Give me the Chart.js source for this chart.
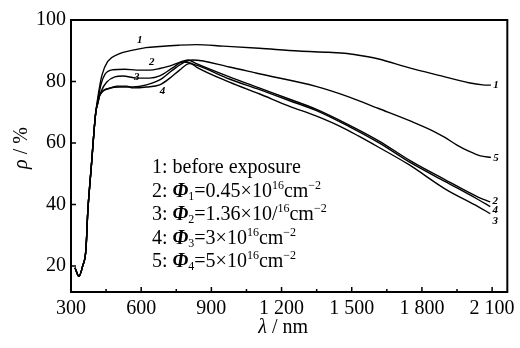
<!DOCTYPE html>
<html lang="en">
<head>
<meta charset="UTF-8">
<title>Reflectance spectra</title>
<style>
  body { margin: 0; background: #fff; }
</style>
</head>
<body>
<canvas id="chart" width="520" height="348"></canvas>
<script src="https://cdn.jsdelivr.net/npm/chart.js@4/dist/chart.umd.min.js"></script>
<script>
// common steep rise, all five curves start on it
const riseNm = [317, 334, 350, 364, 372, 381, 389, 398, 406]
const riseR  = [19.4, 16.6, 20, 25.5, 38, 47, 54.5, 63.5, 70]

// 1: before exposure
const nm1 = [415, 432, 457, 500, 560, 620, 680, 760, 836, 950, 1104, 1274, 1400, 1480, 1550, 1615, 1743, 1883, 2000, 2060, 2095]
const r1  = [75, 82, 86.5, 88.8, 90.1, 91, 91.4, 91.8, 92, 91.5, 90.8, 89.9, 89.5, 89.1, 88.3, 87.3, 84.5, 81.8, 79.6, 78.9, 78.8]

// 2: phi1
const nm2 = [415, 428, 445, 479, 530, 581, 636, 679, 720, 764, 800, 836, 977, 1104, 1232, 1347, 1487, 1615, 1755, 1900, 2040, 2092]
const r2  = [74, 79, 82.3, 83.8, 84, 83.7, 83.7, 84.2, 85, 86.2, 87, 85.8, 81.5, 77.9, 74.3, 71, 65.9, 60.7, 54, 48, 42.4, 40.8]

// 3: phi2
const nm3 = [415, 430, 453, 487, 521, 581, 636, 679, 734, 777, 810, 836, 977, 1104, 1232, 1347, 1450, 1530, 1615, 1743, 1900, 2040, 2092]
const r3  = [73.5, 77, 79.8, 81.5, 81.8, 81.1, 81.1, 81.8, 84.4, 86.3, 86, 84.7, 79.8, 76, 72, 68.8, 65.4, 62.2, 58.6, 53, 45, 39.3, 37]

// 4: phi3
const nm4 = [415, 423, 466, 496, 538, 564, 623, 679, 721, 764, 806, 836, 977, 1104, 1232, 1347, 1487, 1615, 1755, 1900, 2040, 2092]
const r4  = [73, 75.5, 77.8, 78.5, 78.5, 77.9, 78.2, 78.9, 81, 83.7, 85.8, 85.3, 80.8, 77.4, 73.8, 70.6, 65.4, 60.1, 53.4, 47.4, 41.6, 39.3]

// 5: phi4
const nm5 = [415, 423, 466, 509, 564, 623, 679, 734, 785, 819, 977, 1104, 1347, 1487, 1615, 1755, 1850, 1900, 1950, 2000, 2050, 2095]
const r5  = [73, 75.5, 77.8, 78.2, 78.2, 78.9, 80.5, 83.7, 86.3, 87, 84.7, 82.5, 78.4, 75, 71.2, 67, 63.8, 61.7, 59.3, 57.3, 55.8, 55.3]

const xTicks = [300, 600, 900, 1200, 1500, 1800, 2100]
const xMinor = [450, 750, 1050, 1350, 1650, 1950]
const yTicks = [20, 40, 60, 80, 100]

// curve numbers written next to the lines [text, nm, rho]
const curveTags = [
  ['1', 594, 93.5], ['2', 645, 86.3], ['3', 581, 81.5], ['4', 691, 77],
  ['1', 2117, 78.9], ['5', 2117, 55.1], ['2', 2113, 40.9], ['4', 2113, 38.2], ['3', 2113, 34.6]
]

const legendLines = [
  [['1: before exposure', 'n']],
  [['2: ', 'n'], ['Φ', 'i'], ['1', 'sub'], ['=0.45×10', 'n'], ['16', 'sup'], ['cm', 'n'], ['−2', 'sup']],
  [['3: ', 'n'], ['Φ', 'i'], ['2', 'sub'], ['=1.36×10/', 'n'], ['16', 'sup'], ['cm', 'n'], ['−2', 'sup']],
  [['4: ', 'n'], ['Φ', 'i'], ['3', 'sub'], ['=3×10', 'n'], ['16', 'sup'], ['cm', 'n'], ['−2', 'sup']],
  [['5: ', 'n'], ['Φ', 'i'], ['4', 'sub'], ['=5×10', 'n'], ['16', 'sup'], ['cm', 'n'], ['−2', 'sup']]
]

const zip = (xs, ys) => xs.map((v, i) => ({ x: v, y: ys[i] }))
const rise = zip(riseNm, riseR)
const curves = [[nm1, r1], [nm2, r2], [nm3, r3], [nm4, r4], [nm5, r5]]

const serif = '"Liberation Serif", "Times New Roman", serif'

function drawRich(ctx, x, y, parts, size) {
  for (const [txt, st] of parts) {
    let dy = 0
    let font = size + 'px ' + serif
    if (st === 'i') font = 'italic bold ' + size + 'px ' + serif
    if (st === 'it') font = 'italic ' + size + 'px ' + serif
    if (st === 'sub') { font = Math.round(size * 0.6) + 'px ' + serif; dy = 5 }
    if (st === 'sup') { font = Math.round(size * 0.6) + 'px ' + serif; dy = -6 }
    ctx.font = font
    ctx.fillText(txt, x, y + dy)
    x += ctx.measureText(txt).width
  }
  return x
}

function richWidth(ctx, parts, size) {
  ctx.save()
  ctx.globalAlpha = 0
  const w = drawRich(ctx, 0, 0, parts, size)
  ctx.restore()
  return w
}

const decor = {
  id: 'decor',
  afterDraw(chart) {
    const { ctx, chartArea: a, scales: { x, y } } = chart
    ctx.save()
    ctx.strokeStyle = '#000'
    ctx.fillStyle = '#000'

    // frame
    ctx.lineWidth = 2
    ctx.strokeRect(a.left, a.top, a.right - a.left, a.bottom - a.top)

    // inward ticks
    ctx.lineWidth = 1.5
    ctx.beginPath()
    for (const v of xTicks) {
      const px = x.getPixelForValue(v)
      ctx.moveTo(px, a.bottom); ctx.lineTo(px, a.bottom - 5)
    }
    for (const v of xMinor) {
      const px = x.getPixelForValue(v)
      ctx.moveTo(px, a.bottom); ctx.lineTo(px, a.bottom - 3)
    }
    for (const v of yTicks) {
      const py = y.getPixelForValue(v)
      ctx.moveTo(a.left, py); ctx.lineTo(a.left + 5, py)
    }
    ctx.stroke()

    // curve numbers
    ctx.font = 'italic bold 11px ' + serif
    ctx.textAlign = 'center'
    ctx.textBaseline = 'middle'
    for (const [t, nm, r] of curveTags) {
      ctx.fillText(t, x.getPixelForValue(nm), y.getPixelForValue(r))
    }

    // legend block
    ctx.textAlign = 'left'
    legendLines.forEach((parts, i) => {
      drawRich(ctx, a.left + 81, a.top + 148 + i * 23.5, parts, 20)
    })

    // x title
    const xTitle = [['λ', 'it'], [' / nm', 'n']]
    const xw = richWidth(ctx, xTitle, 20)
    drawRich(ctx, (a.left + a.right) / 2 - 6 - xw / 2, 328, xTitle, 20)

    // y title
    const yTitle = [['ρ', 'it'], [' / %', 'n']]
    const yw = richWidth(ctx, yTitle, 20)
    ctx.translate(22, 148)
    ctx.rotate(-Math.PI / 2)
    drawRich(ctx, -yw / 2, 0, yTitle, 20)
    ctx.restore()
  }
}

const fmt = v => v >= 1000 ? Math.floor(v / 1000) + ' ' + String(v % 1000).padStart(3, '0') : String(v)

new Chart(document.getElementById('chart'), {
  type: 'line',
  data: {
    datasets: curves.map(([xs, ys], i) => ({
      label: String(i + 1),
      data: rise.concat(zip(xs, ys)),
      borderColor: '#000',
      borderWidth: 1.4,
      pointRadius: 0,
      fill: false,
      cubicInterpolationMode: 'monotone'
    }))
  },
  options: {
    responsive: false,
    animation: false,
    layout: { padding: { top: 20, right: 11, left: 0, bottom: 0 } },
    plugins: { legend: { display: false }, tooltip: { enabled: false } },
    scales: {
      x: {
        type: 'linear', min: 300, max: 2165,
        afterBuildTicks: s => { s.ticks = xTicks.map(v => ({ value: v })) },
        afterFit: s => { s.height = 56 },
        grid: { display: false, drawTicks: false },
        border: { display: false },
        ticks: {
          padding: 5, color: '#000', maxRotation: 0, autoSkip: false,
          font: { family: 'Liberation Serif', size: 20 },
          callback: fmt
        }
      },
      y: {
        type: 'linear', min: 11.5, max: 100,
        afterBuildTicks: s => { s.ticks = yTicks.map(v => ({ value: v })) },
        afterFit: s => { s.width = 71 },
        grid: { display: false, drawTicks: false },
        border: { display: false },
        ticks: {
          padding: 5, color: '#000',
          font: { family: 'Liberation Serif', size: 20 }
        }
      }
    }
  },
  plugins: [decor]
})
</script>
</body>
</html>
